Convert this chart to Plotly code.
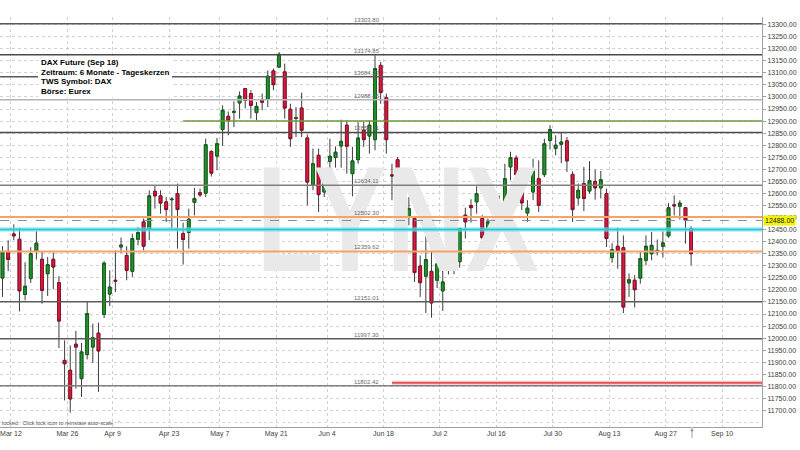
import pandas as pd
import numpy as np
import plotly.graph_objects as go

# Eurex trading days (plus the empty days to the right of the last candle)
holidays = ["2018-03-30", "2018-04-02", "2018-05-01", "2018-05-21"]
days = [d.strftime("%Y-%m-%d") for d in pd.bdate_range("2018-03-08", "2018-09-19")
        if d.strftime("%Y-%m-%d") not in holidays]

# daily candles, 8 Mar - 31 Aug 2018
open_ = [12249, 12360, 12432, 12410, 12181, 12247, 12360, 12327, 12267, 12327, 12230, 11908,
         11867, 11975, 11832, 11932, 11963, 12021, 12098, 12183, 12240, 12378, 12343, 12277,
         12410, 12482, 12450, 12609, 12590, 12565, 12574, 12599, 12434, 12438, 12563, 12603,
         12601, 12774, 12755, 12865, 12920, 12936, 12975, 13035, 13014, 12935, 12986, 12990,
         13108, 13124, 13104, 12949, 12911, 12954, 12830, 12637, 12758, 12606, 12733, 12749,
         12797, 12883, 12682, 12740, 12862, 12838, 12823, 13131, 12997, 12677, 12740, 12700,
         12502, 12496, 12299, 12257, 12277, 12240, 12196, 12305, 12303, 12317, 12510, 12550,
         12565, 12496, 12451, 12526, 12526, 12560, 12710, 12747, 12650, 12519, 12606, 12661,
         12678, 12820, 12786, 12804, 12818, 12679, 12581, 12641, 12610, 12650, 12623, 12599,
         12334, 12381, 12375, 12229, 12240, 12249, 12323, 12350, 12358, 12381, 12424, 12553,
         12547, 12541, 12454]
high = [12381, 12406, 12472, 12457, 12315, 12377, 12444, 12360, 12337, 12355, 12258, 11991,
        11970, 12030, 11980, 12152, 12060, 12064, 12319, 12281, 12364, 12417, 12381, 12433,
        12461, 12496, 12613, 12631, 12613, 12585, 12585, 12641, 12479, 12537, 12623, 12620,
        12827, 12779, 12830, 12965, 12940, 12982, 13023, 13036, 13028, 12979, 13014, 13110,
        13118, 13186, 13138, 12972, 12958, 13018, 12844, 12786, 12786, 12703, 12827, 12795,
        12906, 12903, 12793, 12896, 12896, 12903, 13173, 13145, 13014, 12723, 12751, 12703,
        12585, 12497, 12343, 12426, 12360, 12366, 12295, 12416, 12337, 12457, 12541, 12576,
        12630, 12510, 12496, 12572, 12592, 12723, 12773, 12758, 12699, 12572, 12744, 12737,
        12827, 12883, 12841, 12854, 12834, 12692, 12641, 12710, 12734, 12699, 12693, 12620,
        12394, 12458, 12426, 12268, 12261, 12357, 12426, 12440, 12409, 12443, 12560, 12592,
        12572, 12542, 12464]
low = [12171, 12278, 12406, 12111, 12157, 12229, 12326, 12143, 12175, 12203, 11959, 11742,
       11691, 11791, 11756, 11912, 11897, 11777, 12083, 12133, 12191, 12353, 12240, 12254,
       12385, 12364, 12406, 12537, 12516, 12482, 12454, 12371, 12305, 12371, 12509, 12585,
       12585, 12670, 12696, 12797, 12841, 12875, 12910, 12952, 12910, 12903, 12945, 12958,
       13028, 13120, 12910, 12793, 12834, 12834, 12551, 12613, 12523, 12585, 12693, 12707,
       12707, 12682, 12588, 12723, 12793, 12765, 12779, 12972, 12765, 12572, 12647, 12426,
       12468, 12233, 12171, 12104, 12085, 12208, 12113, 12264, 12265, 12292, 12413, 12479,
       12516, 12374, 12396, 12489, 12482, 12502, 12655, 12647, 12531, 12482, 12572, 12523,
       12668, 12782, 12758, 12726, 12689, 12482, 12551, 12527, 12599, 12574, 12579, 12378,
       12313, 12288, 12104, 12171, 12127, 12226, 12302, 12323, 12343, 12334, 12416, 12509,
       12492, 12392, 12302]
close = [12357, 12326, 12424, 12196, 12215, 12350, 12394, 12198, 12305, 12295, 12071, 11894,
         11748, 11963, 11943, 12102, 12002, 11947, 12311, 12212, 12236, 12386, 12281, 12413,
         12438, 12381, 12590, 12590, 12560, 12533, 12576, 12533, 12409, 12493, 12579, 12594,
         12802, 12684, 12806, 12945, 12903, 12940, 13004, 12986, 12965, 12961, 12978, 13086,
         13051, 13177, 12954, 12827, 12914, 12862, 12647, 12723, 12595, 12675, 12754, 12771,
         12816, 12796, 12735, 12830, 12823, 12883, 13118, 13018, 12823, 12673, 12693, 12496,
         12537, 12272, 12230, 12326, 12146, 12308, 12233, 12335, 12307, 12455, 12482, 12541,
         12599, 12416, 12482, 12533, 12560, 12661, 12749, 12678, 12561, 12539, 12693, 12551,
         12806, 12865, 12800, 12813, 12735, 12533, 12613, 12579, 12653, 12623, 12657, 12413,
         12367, 12361, 12129, 12242, 12201, 12330, 12381, 12385, 12364, 12395, 12541, 12549,
         12560, 12489, 12350]
candle_days = days[:len(close)]

# x-axis labels (one every second Monday)
tick_days = ["2018-03-12", "2018-03-26", "2018-04-09", "2018-04-23", "2018-05-07", "2018-05-22",
             "2018-06-04", "2018-06-18", "2018-07-02", "2018-07-16", "2018-07-30", "2018-08-13",
             "2018-08-27", "2018-09-10"]
tick_text = ["Mar 12", "Mar 26", "Apr 9", "Apr 23", "May 7", "May 21", "Jun 4", "Jun 18",
             "Jul 2", "Jul 16", "Jul 30", "Aug 13", "Aug 27", "Sep 10"]

# horizontal levels drawn on the chart
levels = [13303.80, 13174.85, 13084.27, 12988.26, 12852.71, 12634.11, 12502.30, 12359.62,
          12151.01, 11997.30, 11802.42]
level_colors = ["#5a5a5a", "#4a4a4a", "#5a5a5a", "#b4b4b4", "#4a4a4a", "#808080", "#f2a46c",
                "#f2a46c", "#5a5a5a", "#5a5a5a", "#808080"]
green_level, green_from = 12900, "2018-04-25"
red_level, red_from = 11815, "2018-06-19"
cyan_level = 12450
last_price = 12488.00

info_lines = ["DAX Future (Sep 18)", "Zeitraum: 6 Monate - Tageskerzen", "TWS Symbol: DAX",
              "Börse: Eurex"]

GREEN, GREEN_D = "#1f952b", "#155e1b"
RED, RED_D = "#e0173f", "#8c1028"

fig = go.Figure()

# watermark, below the candles
fig.add_trace(go.Scatter(
    x=[days[70]], y=[12433], mode="text", text=["LYNX"],
    textfont=dict(size=150, color="#e9e9e9", family="Liberation Sans", weight="bold"),
    hoverinfo="skip", showlegend=False))

fig.add_trace(go.Candlestick(
    x=candle_days, open=open_, high=high, low=low, close=close,
    increasing=dict(fillcolor=GREEN, line=dict(color="#3c3c3c", width=1)),
    decreasing=dict(fillcolor=RED, line=dict(color="#3c3c3c", width=1)),
    showlegend=False))
# bodies again with darker outline
body_hi = [max(o, c) for o, c in zip(open_, close)]
body_lo = [min(o, c) for o, c in zip(open_, close)]
fig.add_trace(go.Candlestick(
    x=candle_days, open=open_, high=body_hi, low=body_lo, close=close,
    increasing=dict(fillcolor=GREEN, line=dict(color=GREEN_D, width=1)),
    decreasing=dict(fillcolor=RED, line=dict(color=RED_D, width=1)),
    showlegend=False, hoverinfo="skip"))

shapes = []
annots = []
for lv, col in zip(levels, level_colors):
    w = 2 if col.startswith("#f2") else 1.5
    shapes.append(dict(type="line", xref="paper", x0=0, x1=1, yref="y", y0=lv, y1=lv,
                       line=dict(color=col, width=w)))
    annots.append(dict(xref="paper", x=0.462, y=lv, yref="y", xanchor="left", yanchor="bottom",
                       text=f"{lv:.2f}", showarrow=False, yshift=-1,
                       font=dict(size=6, color="#6a6a6a")))

gi = days.index(green_from)
shapes.append(dict(type="line", xref="x", x0=gi, x1=len(days) + 5, yref="y", y0=green_level,
                   y1=green_level, line=dict(color="#6e9a3c", width=1.5)))
ri = days.index(red_from)
shapes.append(dict(type="line", xref="x", x0=ri, x1=len(days) + 5, yref="y", y0=red_level,
                   y1=red_level, line=dict(color="rgba(240,120,120,0.45)", width=4)))
shapes.append(dict(type="line", xref="x", x0=ri, x1=len(days) + 5, yref="y", y0=red_level,
                   y1=red_level, line=dict(color="#e02828", width=1.2)))
shapes.append(dict(type="line", xref="paper", x0=0, x1=1, yref="y", y0=cyan_level, y1=cyan_level,
                   line=dict(color="rgba(120,230,240,0.5)", width=5)))
shapes.append(dict(type="line", xref="paper", x0=0, x1=1, yref="y", y0=cyan_level, y1=cyan_level,
                   line=dict(color="#2cc8d8", width=2)))
shapes.append(dict(type="line", xref="paper", x0=0, x1=1, yref="y", y0=last_price, y1=last_price,
                   line=dict(color="#8a8a8a", width=1, dash="dash")))
shapes.append(dict(type="line", xref="paper", x0=0, x1=1, yref="y", y0=11650, y1=11650,
                   line=dict(color="#d6d6d6", width=1, dash="dot"), layer="below"))
# small marker below the x axis
shapes.append(dict(type="line", xref="paper", yref="paper", x0=692 / 762, x1=692 / 762,
                   y0=-11 / 410, y1=0, line=dict(color="#d0d0d0", width=2)))
annots.append(dict(xref="paper", yref="paper", x=696 / 762, y=-9 / 410, text="+",
                   showarrow=False, font=dict(size=7, color="#707070")))

# info box
shapes.append(dict(type="rect", xref="paper", yref="paper", x0=38 / 762, x1=172 / 762,
                   y0=(450 - 23 - 97) / 410, y1=(450 - 23 - 57) / 410,
                   fillcolor="white", line=dict(width=0)))
for k, t in enumerate(info_lines):
    annots.append(dict(xref="paper", yref="paper", x=38.5 / 762, y=(450 - 23 - 62.5 - 9.6 * k) / 410,
                       xanchor="left", yanchor="middle", text=t, showarrow=False,
                       font=dict(size=8, color="black", family="Liberation Sans", weight="bold")))

annots.append(dict(xref="paper", x=1, xanchor="left", y=last_price, yref="y", yanchor="middle",
                   text=f"{last_price:.2f}", showarrow=False, bgcolor="#f4f400",
                   font=dict(size=7, color="#202020"), borderpad=1, xshift=1))
annots.append(dict(xref="paper", yref="paper", x=0, y=0, xanchor="left", yanchor="bottom",
                   text="locked.  Click lock icon to reinstate auto-scale.  <sup>×</sup>",
                   showarrow=False, font=dict(size=5.5, color="#555555"), yshift=-1))

fig.update_layout(
    width=800, height=450,
    margin=dict(l=0, r=38, t=17, b=23),
    paper_bgcolor="white", plot_bgcolor="white",
    font=dict(family="Liberation Sans", size=7, color="#404040"),
    shapes=shapes, annotations=annots,
    xaxis=dict(type="category", categoryorder="array", categoryarray=days,
               range=[-0.445, 134.56], rangeslider=dict(visible=False),
               tickmode="array", tickvals=[days.index(d) - 0.5 for d in tick_days],
               ticktext=tick_text, showgrid=True, gridcolor="#d0d0d0", griddash="dot",
               showline=True, linecolor="#a0a0a0", ticks="", tickfont=dict(size=7),
               zeroline=False),
    yaxis=dict(side="right", range=[11631.7, 13331.5], tickmode="array",
               tickvals=list(np.arange(11700, 13301, 50)), tickformat=".2f",
               showgrid=True, gridcolor="#d0d0d0", griddash="dot", showline=True,
               linecolor="#a0a0a0", ticks="outside", ticklen=3, tickcolor="#a0a0a0",
               tickfont=dict(size=7), zeroline=False),
)

# page body has a default 8px margin: drop it; the watermark font is condensed in the original
post = """
document.body.style.margin = '0';
var wm = document.querySelector('.textpoint text');
if (wm) {
  var b = wm.getBBox();
  var cx = b.x + b.width / 2;
  wm.setAttribute('transform', 'matrix(0.73,0,0,1,' + (0.27 * cx) + ',0)');
}
"""
fig.write_html("out.html", config={"displayModeBar": False}, post_script=post)
